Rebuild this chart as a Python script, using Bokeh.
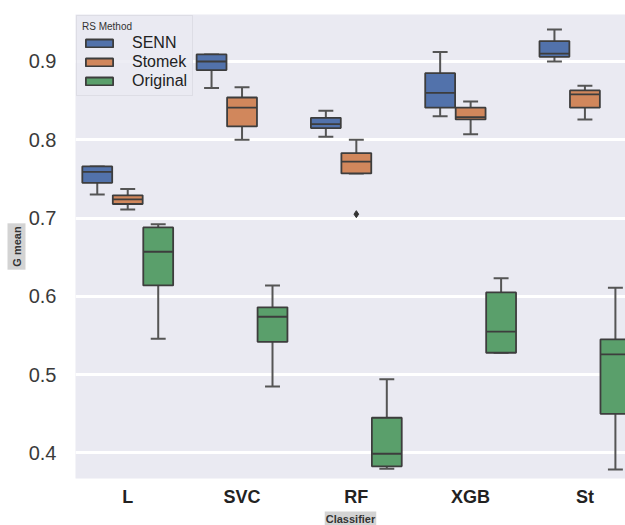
from bokeh.plotting import figure
from bokeh.models import (Range1d, FixedTicker, Title, Legend, LegendItem,
                          ColumnDataSource, PrintfTickFormatter)
from bokeh.embed import file_html
from bokeh.resources import INLINE

# ---- data ----
classifiers = ["L", "SVC", "RF", "XGB", "St"]
methods = ["SENN", "Stomek", "Original"]
colors = ["#5272ab", "#d1875c", "#5a9f6b"]

senn_lo = [0.730, 0.866, 0.804, 0.830, 0.900]
senn_q1 = [0.745, 0.889, 0.815, 0.841, 0.906]
senn_med = [0.759, 0.900, 0.820, 0.860, 0.910]
senn_q3 = [0.766, 0.909, 0.828, 0.885, 0.926]
senn_hi = [0.766, 0.909, 0.837, 0.912, 0.941]

stomek_lo = [0.711, 0.800, 0.757, 0.807, 0.826]
stomek_q1 = [0.718, 0.817, 0.757, 0.826, 0.841]
stomek_med = [0.724, 0.841, 0.772, 0.829, 0.858]
stomek_q3 = [0.729, 0.854, 0.783, 0.841, 0.863]
stomek_hi = [0.737, 0.867, 0.800, 0.849, 0.869]

orig_lo = [0.546, 0.485, 0.380, 0.528, 0.379]
orig_q1 = [0.614, 0.542, 0.383, 0.528, 0.450]
orig_med = [0.657, 0.574, 0.399, 0.555, 0.526]
orig_q3 = [0.688, 0.586, 0.445, 0.605, 0.545]
orig_hi = [0.692, 0.614, 0.494, 0.623, 0.611]

# outliers: (classifier, method, value)
outlier_cls = ["RF"]
outlier_method = ["Stomek"]
outlier_val = [0.705]

y_ticks = [0.4, 0.5, 0.6, 0.7, 0.8, 0.9]
x_label = "Classifier"
y_label = "G mean"

stats = {
    "SENN": (senn_lo, senn_q1, senn_med, senn_q3, senn_hi),
    "Stomek": (stomek_lo, stomek_q1, stomek_med, stomek_q3, stomek_hi),
    "Original": (orig_lo, orig_q1, orig_med, orig_q3, orig_hi),
}

# ---- layout parameters ----
group_width = 0.8
n_m = len(methods)
slot = group_width / n_m
box_w = slot * 0.98
cap_w = box_w / 2
edge = "#3d3d3d"
whisk = "#555555"
FONT = "Liberation Sans"

p = figure(frame_width=550, frame_height=464, output_backend="svg",
           toolbar_location=None,
           x_range=Range1d(-0.457, 4.355), y_range=Range1d(0.3674, 0.960),
           min_border_left=75, min_border_right=0, min_border_top=14,
           min_border_bottom=0)
p.background_fill_color = "#EAEAF2"
p.border_fill_color = "white"
p.outline_line_color = None
p.xgrid.grid_line_color = None
p.ygrid.grid_line_color = "white"
p.ygrid.grid_line_width = 3

p.yaxis.ticker = FixedTicker(ticks=y_ticks)
p.yaxis.formatter = PrintfTickFormatter(format="%.1f")
p.xaxis.ticker = FixedTicker(ticks=list(range(len(classifiers))))
p.xaxis.major_label_overrides = {i: c for i, c in enumerate(classifiers)}
for ax in (p.xaxis, p.yaxis):
    ax.axis_line_color = None
    ax.major_tick_line_color = None
    ax.minor_tick_line_color = None
    ax.major_label_text_font = FONT
p.yaxis.major_label_text_font_size = "20px"
p.yaxis.major_label_text_color = "#3a3a3a"
p.yaxis.major_label_standoff = 13
p.xaxis.major_label_text_font_size = "18px"
p.xaxis.major_label_text_font_style = "bold"
p.xaxis.major_label_text_color = "#222222"
p.xaxis.major_label_standoff = 2

legend_items = []
for mi, m in enumerate(methods):
    lo, q1, med, q3, hi = stats[m]
    off = (mi - (n_m - 1) / 2) * slot
    xs = [i + off for i in range(len(classifiers))]
    src = ColumnDataSource(dict(
        x=xs, left=[x - box_w / 2 for x in xs], right=[x + box_w / 2 for x in xs],
        cl=[x - cap_w / 2 for x in xs], cr=[x + cap_w / 2 for x in xs],
        lo=lo, q1=q1, med=med, q3=q3, hi=hi))
    p.segment(x0="x", y0="q3", x1="x", y1="hi", source=src, line_color=whisk, line_width=2)
    p.segment(x0="x", y0="q1", x1="x", y1="lo", source=src, line_color=whisk, line_width=2)
    p.segment(x0="cl", y0="hi", x1="cr", y1="hi", source=src, line_color=whisk, line_width=2)
    p.segment(x0="cl", y0="lo", x1="cr", y1="lo", source=src, line_color=whisk, line_width=2)
    r = p.quad(left="left", right="right", bottom="q1", top="q3", source=src,
               fill_color=colors[mi], line_color=edge, line_width=1.8)
    p.segment(x0="left", y0="med", x1="right", y1="med", source=src,
              line_color=edge, line_width=1.8)
    legend_items.append(LegendItem(label=m, renderers=[r]))

ox = [classifiers.index(c) + (methods.index(m) - (n_m - 1) / 2) * slot
      for c, m in zip(outlier_cls, outlier_method)]
p.scatter(x=ox, y=outlier_val, marker="diamond", size=7, color="#333333")

legend = Legend(items=legend_items, location="top_left", title="RS Method",
                title_text_font_size="10px", title_text_color="#333333",
                title_text_font=FONT, title_text_font_style="normal",
                title_standoff=2,
                label_text_font=FONT, label_text_font_size="16px",
                label_text_color="#222222",
                glyph_width=34, glyph_height=10, label_standoff=16,
                spacing=1, padding=5, margin=1,
                background_fill_color="#EAEAF2", background_fill_alpha=0.85,
                border_line_color="#cfcfd8", border_line_width=1)
p.add_layout(legend)

# axis titles with grey boxes
p.add_layout(Title(text=y_label, align="center", text_font=FONT,
                   text_font_size="11px", text_font_style="bold",
                   text_color="#333333", background_fill_color="#d3d3d3",
                   padding=3, standoff=0), "left")
p.add_layout(Title(text=x_label, align="center", text_font=FONT,
                   text_font_size="11px", text_font_style="bold",
                   text_color="#333333", background_fill_color="#d3d3d3",
                   padding=1, standoff=0, offset=6), "below")

open("out.html", "w").write(file_html(p, INLINE))
